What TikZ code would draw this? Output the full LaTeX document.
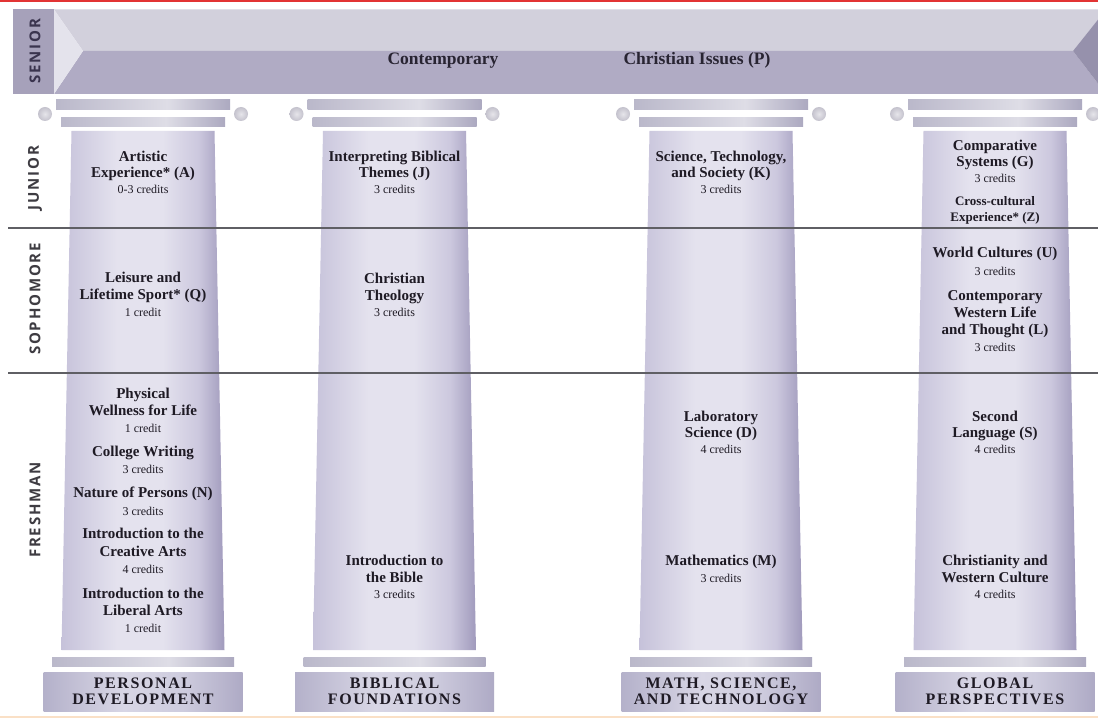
\documentclass[tikz,border=0pt]{standalone}
\usepackage{fontspec}
\setmainfont{Liberation Serif}
\newfontfamily\yrfont[LetterSpace=12]{Open Sans}
\newfontfamily\pilfont[LetterSpace=10]{Liberation Serif}
\definecolor{txt}{RGB}{30,26,36}
\definecolor{lbl}{RGB}{62,60,66}
\definecolor{snrlbl}{RGB}{58,52,78}
\definecolor{bandtxt}{RGB}{40,36,50}
\definecolor{topface}{RGB}{210,208,220}
\definecolor{lowface}{RGB}{176,171,196}
\definecolor{lefttri}{RGB}{228,227,236}
\definecolor{righttri}{RGB}{150,145,172}
\definecolor{snrbox}{RGB}{166,161,186}
\definecolor{rowline}{RGB}{95,95,100}
\definecolor{redline}{RGB}{226,52,52}
\definecolor{peach}{RGB}{250,224,198}
\definecolor{shA}{RGB}{198,194,218}
\definecolor{shB}{RGB}{228,226,238}
\definecolor{shC}{RGB}{204,200,222}
\definecolor{shD}{RGB}{160,154,188}
\definecolor{slA}{RGB}{186,184,202}
\definecolor{slB}{RGB}{222,221,230}
\definecolor{slC}{RGB}{172,169,192}
\definecolor{baA}{RGB}{180,177,202}
\definecolor{baB}{RGB}{216,214,229}
\definecolor{baC}{RGB}{206,204,222}
\definecolor{baD}{RGB}{174,170,197}
\definecolor{circin}{RGB}{230,229,234}
\definecolor{circout}{RGB}{196,194,205}
\pgfdeclarehorizontalshading{shaftsh}{100bp}{color(0bp)=(shA); color(25bp)=(shA); color(42bp)=(shB); color(56bp)=(shB); color(67bp)=(shC); color(75bp)=(shD); color(100bp)=(shD)}
\pgfdeclarehorizontalshading{slabsh}{100bp}{color(0bp)=(slA); color(25bp)=(slA); color(57bp)=(slB); color(75bp)=(slC); color(100bp)=(slC)}
\pgfdeclarehorizontalshading{basesh}{100bp}{color(0bp)=(baA); color(25bp)=(baA); color(45bp)=(baB); color(60bp)=(baC); color(75bp)=(baD); color(100bp)=(baD)}
\tikzset{
  ttl/.style={font=\fontsize{15}{16}\selectfont\bfseries, text=txt, anchor=base, inner sep=0pt},
  sml/.style={font=\fontsize{13}{14}\selectfont\bfseries, text=txt, anchor=base, inner sep=0pt},
  crd/.style={font=\fontsize{12}{13}\selectfont, text=txt, anchor=base, inner sep=0pt},
  bandlbl/.style={font=\fontsize{17.5}{18}\selectfont\bfseries, text=bandtxt, anchor=base, inner sep=0pt},
  pillar/.style={font=\pilfont\fontsize{16}{17}\selectfont\bfseries, text=txt, anchor=base, inner sep=0pt},
  yearlbl/.style={font=\yrfont\fontsize{15}{16}\selectfont\bfseries, text=lbl, rotate=90, inner sep=0pt},
  rowrule/.style={draw=rowline, line width=2pt}
}
\newcommand\drawcol[1]{%
  \shade[shading=shaftsh] ({#1-71.5},131) -- ({#1+71.5},131) -- ({#1+81.5},650) -- ({#1-81.5},650) -- cycle;
  \shade[shading=slabsh] ({#1-87},100) rectangle ({#1+87},110);
  \shade[shading=slabsh] ({#1-82},118) rectangle ({#1+82},127);
  \shade[inner color=circin, outer color=circout] ({#1-98},114) circle[radius=7pt];
  \shade[inner color=circin, outer color=circout] ({#1+98},114) circle[radius=7pt];
  \shade[shading=slabsh] ({#1-91},657) rectangle ({#1+91},666);
  \shade[shading=basesh] ({#1-99.5},672) rectangle ({#1+99.5},711);
}
\newcommand\Ln[5]{\node[#1] (#2) at (#3,#4) {#5};}
\begin{document}
\begin{tikzpicture}[x=1pt,y=-1pt]
\useasboundingbox (0,0) rectangle (1098,719);
\fill[white] (0,0) rectangle (1098,719);
\begin{scope}
\clip (0,0) rectangle (1098,719);
% top and bottom rules
\fill[redline] (0,0) rectangle (1098,2);
\fill[peach] (0,715.5) rectangle (1098,718);
% senior band
\fill[snrbox] (13,9.5) rectangle (54,94);
\fill[topface] (54,9.5) -- (1106,9.5) -- (1073,51) -- (83,51) -- cycle;
\fill[lowface] (83,51) -- (1073,51) -- (1106,94) -- (54,94) -- cycle;
\fill[lefttri] (54,9.5) -- (83,51) -- (54,94) -- cycle;
\fill[righttri] (1106,9.5) -- (1073,51) -- (1106,94) -- cycle;
\end{scope}
\node[bandlbl] (contemp) at (443,65) {Contemporary};
\node[bandlbl] (chrissues) at (697,65) {Christian Issues (P)};
% columns
\drawcol{143}
\drawcol{394.5}
\drawcol{721}
\drawcol{995}
% row rules
\draw[rowrule] (8,228) -- (1098,228);
\draw[rowrule] (8,373) -- (1098,373);
% year labels
\node[yearlbl, text=snrlbl] (senior) at (35,51) {SENIOR};
\node[yearlbl] (junior) at (35,178) {JUNIOR};
\node[yearlbl] (sophomore) at (35,299) {SOPHOMORE};
\node[yearlbl] (freshman) at (35,510) {FRESHMAN};
% column 1
\Ln{ttl}{a1}{143}{162}{Artistic}
\Ln{ttl}{a2}{143}{178}{Experience* (A)}
\Ln{crd}{a3}{143}{194}{0-3 credits}
\Ln{ttl}{q1}{143}{283}{Leisure and}
\Ln{ttl}{q2}{143}{300}{Lifetime Sport* (Q)}
\Ln{crd}{q3}{143}{317}{1 credit}
\Ln{ttl}{p1}{143}{398}{Physical}
\Ln{ttl}{p2}{143}{415}{Wellness for Life}
\Ln{crd}{p3}{143}{432}{1 credit}
\Ln{ttl}{w1}{143}{456}{College Writing}
\Ln{crd}{w2}{143}{473}{3 credits}
\Ln{ttl}{n1}{143}{497}{Nature of Persons (N)}
\Ln{crd}{n2}{143}{515}{3 credits}
\Ln{ttl}{ca1}{143}{538}{Introduction to the}
\Ln{ttl}{ca2}{143}{556}{Creative Arts}
\Ln{crd}{ca3}{143}{573}{4 credits}
\Ln{ttl}{la1}{143}{598}{Introduction to the}
\Ln{ttl}{la2}{143}{615}{Liberal Arts}
\Ln{crd}{la3}{143}{632}{1 credit}
\Ln{pillar}{b1a}{143}{688}{PERSONAL}
\Ln{pillar}{b1b}{143}{704}{DEVELOPMENT}
% column 2
\Ln{ttl}{j1}{394.5}{162}{Interpreting Biblical}
\Ln{ttl}{j2}{394.5}{178}{Themes (J)}
\Ln{crd}{j3}{394.5}{194}{3 credits}
\Ln{ttl}{t1}{394.5}{284}{Christian}
\Ln{ttl}{t2}{394.5}{301}{Theology}
\Ln{crd}{t3}{394.5}{317}{3 credits}
\Ln{ttl}{ib1}{394.5}{565}{Introduction to}
\Ln{ttl}{ib2}{394.5}{582}{the Bible}
\Ln{crd}{ib3}{394.5}{598}{3 credits}
\Ln{pillar}{b2a}{394.5}{688}{BIBLICAL}
\Ln{pillar}{b2b}{394.5}{704}{FOUNDATIONS}
% column 3
\Ln{ttl}{k1}{721}{162}{Science, Technology,}
\Ln{ttl}{k2}{721}{178}{and Society (K)}
\Ln{crd}{k3}{721}{194}{3 credits}
\Ln{ttl}{d1}{721}{421}{Laboratory}
\Ln{ttl}{d2}{721}{437}{Science (D)}
\Ln{crd}{d3}{721}{453}{4 credits}
\Ln{ttl}{m1}{721}{565}{Mathematics (M)}
\Ln{crd}{m2}{721}{582}{3 credits}
\Ln{pillar}{b3a}{721}{688}{MATH, SCIENCE,}
\Ln{pillar}{b3b}{721}{704}{AND TECHNOLOGY}
% column 4
\Ln{ttl}{g1}{995}{151}{Comparative}
\Ln{ttl}{g2}{995}{167}{Systems (G)}
\Ln{crd}{g3}{995}{183}{3 credits}
\Ln{sml}{z1}{995}{206}{Cross-cultural}
\Ln{sml}{z2}{995}{222}{Experience* (Z)}
\Ln{ttl}{u1}{995}{258}{World Cultures (U)}
\Ln{crd}{u2}{995}{276}{3 credits}
\Ln{ttl}{l1}{995}{301}{Contemporary}
\Ln{ttl}{l2}{995}{318}{Western Life}
\Ln{ttl}{l3}{995}{335}{and Thought (L)}
\Ln{crd}{l4}{995}{352}{3 credits}
\Ln{ttl}{s1}{995}{421}{Second}
\Ln{ttl}{s2}{995}{437}{Language (S)}
\Ln{crd}{s3}{995}{453}{4 credits}
\Ln{ttl}{cw1}{995}{565}{Christianity and}
\Ln{ttl}{cw2}{995}{582}{Western Culture}
\Ln{crd}{cw3}{995}{598}{4 credits}
\Ln{pillar}{b4a}{995}{688}{GLOBAL}
\Ln{pillar}{b4b}{995}{704}{PERSPECTIVES}
\end{tikzpicture}
\end{document}
